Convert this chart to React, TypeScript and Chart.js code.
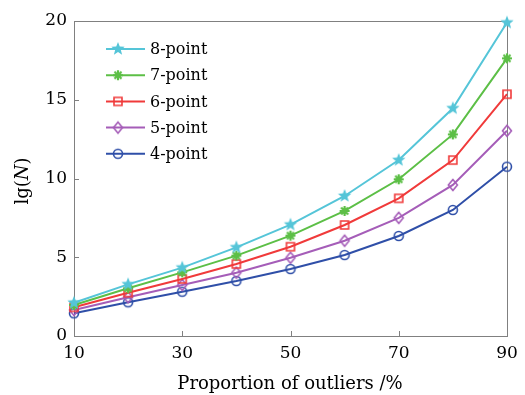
import { useEffect, useRef } from "react";
import { Chart, registerables } from "chart.js";

Chart.register(...registerables);

// Proportion of outliers (%) along the x axis
const proportions = [10, 20, 30, 40, 50, 60, 70, 80, 90];
const xTickValues = [10, 30, 50, 70, 90];
const yTickValues = [0, 5, 10, 15, 20];

// lg(N) for each sampling scheme
const seriesNames = ["8-point", "7-point", "6-point", "5-point", "4-point"];
const lgN8 = [2.11, 3.28, 4.34, 5.63, 7.07, 8.89, 11.17, 14.46, 19.9];
const lgN7 = [1.97, 3.03, 4.04, 5.1, 6.37, 7.94, 9.95, 12.8, 17.63];
const lgN6 = [1.82, 2.75, 3.62, 4.57, 5.67, 7.05, 8.74, 11.17, 15.35];
const lgN5 = [1.65, 2.46, 3.24, 4.02, 4.97, 6.05, 7.5, 9.59, 13.03];
const lgN4 = [1.44, 2.14, 2.81, 3.49, 4.25, 5.14, 6.35, 8.0, 10.75];
const seriesValues = [lgN8, lgN7, lgN6, lgN5, lgN4];

const SERIF = "'DejaVu Serif', serif";
const seriesLook = [
  { color: "#55c5d8", marker: "star" },
  { color: "#5cbf46", marker: "asterisk" },
  { color: "#f03a3a", marker: "square" },
  { color: "#a55db8", marker: "diamond" },
  { color: "#2f4fa8", marker: "circle" },
];

function makeMarker(kind: string, color: string): HTMLCanvasElement {
  const size = 20;
  const c = document.createElement("canvas");
  c.width = size;
  c.height = size;
  const g = c.getContext("2d") as CanvasRenderingContext2D;
  const m = size / 2;
  g.strokeStyle = color;
  g.fillStyle = color;
  g.lineWidth = 1.6;
  g.beginPath();
  if (kind === "star") {
    for (let i = 0; i < 10; i++) {
      const r = i % 2 === 0 ? 7 : 3;
      const a = -Math.PI / 2 + (i * Math.PI) / 5;
      const px = m + r * Math.cos(a);
      const py = m + r * Math.sin(a);
      if (i === 0) g.moveTo(px, py);
      else g.lineTo(px, py);
    }
    g.closePath();
    g.fill();
  } else if (kind === "asterisk") {
    g.lineWidth = 2.2;
    for (let i = 0; i < 4; i++) {
      const a = (i * Math.PI) / 4;
      g.moveTo(m - 5 * Math.cos(a), m - 5 * Math.sin(a));
      g.lineTo(m + 5 * Math.cos(a), m + 5 * Math.sin(a));
    }
    g.stroke();
  } else if (kind === "square") {
    g.rect(m - 4, m - 4, 8, 8);
    g.stroke();
  } else if (kind === "diamond") {
    g.moveTo(m, m - 5.5);
    g.lineTo(m + 4.5, m);
    g.lineTo(m, m + 5.5);
    g.lineTo(m - 4.5, m);
    g.closePath();
    g.stroke();
  } else {
    g.arc(m, m, 4.5, 0, Math.PI * 2);
    g.stroke();
  }
  return c;
}

export default function App() {
  const canvasRef = useRef<HTMLCanvasElement | null>(null);

  useEffect(() => {
    const canvas = canvasRef.current;
    if (!canvas) return;
    const markers = seriesLook.map((s) => makeMarker(s.marker, s.color));

    const frameAndLabels = {
      id: "frameAndLabels",
      beforeDatasetsDraw(chart: any) {
        const { ctx, chartArea: a, scales } = chart;
        ctx.save();
        ctx.strokeStyle = "#808080";
        ctx.lineWidth = 1;
        ctx.strokeRect(Math.round(a.left) + 0.5, Math.round(a.top) + 0.5, Math.round(a.right - a.left), Math.round(a.bottom - a.top));
        ctx.beginPath();
        xTickValues.slice(1, -1).forEach((v) => {
          const x = Math.round(scales.x.getPixelForValue(v)) + 0.5;
          ctx.moveTo(x, a.bottom);
          ctx.lineTo(x, a.bottom - 5);
        });
        yTickValues.slice(1, -1).forEach((v) => {
          const y = Math.round(scales.y.getPixelForValue(v)) + 0.5;
          ctx.moveTo(a.left, y);
          ctx.lineTo(a.left + 5, y);
        });
        ctx.stroke();
        ctx.restore();
      },
      afterDraw(chart: any) {
        const { ctx } = chart;
        ctx.save();
        ctx.fillStyle = "#000";
        // x-axis title
        ctx.font = `18px ${SERIF}`;
        ctx.textAlign = "center";
        ctx.textBaseline = "middle";
        ctx.fillText("Proportion of outliers /%", 290, 384);
        // y-axis title: lg(N) with an italic N
        ctx.translate(23, 181);
        ctx.rotate(-Math.PI / 2);
        const parts = [
          { t: "lg(", f: `18px ${SERIF}` },
          { t: "N", f: `italic 18px ${SERIF}` },
          { t: ")", f: `18px ${SERIF}` },
        ];
        let total = 0;
        const widths = parts.map((p) => {
          ctx.font = p.f;
          const w = ctx.measureText(p.t).width;
          total += w;
          return w;
        });
        ctx.textAlign = "left";
        let cx = -total / 2;
        parts.forEach((p, i) => {
          ctx.font = p.f;
          ctx.fillText(p.t, cx, 0);
          cx += widths[i];
        });
        ctx.restore();

        // legend
        ctx.save();
        ctx.font = `16px ${SERIF}`;
        ctx.textAlign = "left";
        ctx.textBaseline = "middle";
        seriesNames.forEach((name, i) => {
          const y = 49 + i * 26.2;
          ctx.strokeStyle = seriesLook[i].color;
          ctx.lineWidth = 2;
          ctx.beginPath();
          ctx.moveTo(106, y);
          ctx.lineTo(145, y);
          ctx.stroke();
          const mk = markers[i];
          ctx.drawImage(mk, 118 - mk.width / 2, y - mk.height / 2);
          ctx.fillStyle = "#000";
          ctx.fillText(name, 150, y + 1);
        });
        ctx.restore();
      },
    };

    const chart = new Chart(canvas, {
      type: "line",
      data: {
        labels: proportions,
        datasets: seriesNames.map((name, i) => ({
          label: name,
          data: proportions.map((p, j) => ({ x: p, y: seriesValues[i][j] })),
          borderColor: seriesLook[i].color,
          backgroundColor: seriesLook[i].color,
          borderWidth: 2,
          pointStyle: markers[i] as any,
          pointRadius: 6,
          tension: 0,
          clip: false as any,
        })),
      },
      options: {
        responsive: false,
        animation: false,
        layout: { padding: { left: 0, right: 18, top: 21, bottom: 0 } },
        plugins: { legend: { display: false }, tooltip: { enabled: false } },
        scales: {
          x: {
            type: "linear",
            min: 10,
            max: 90,
            grid: { display: false, drawTicks: false },
            border: { display: false },
            afterBuildTicks: (s: any) => {
              s.ticks = xTickValues.map((v) => ({ value: v }));
            },
            afterFit: (s: any) => {
              s.height = 59;
            },
            ticks: {
              color: "#000",
              font: { family: SERIF, size: 17 },
              padding: 7,
              maxRotation: 0,
            },
          },
          y: {
            type: "linear",
            min: 0,
            max: 20,
            grid: { display: false, drawTicks: false },
            border: { display: false },
            afterBuildTicks: (s: any) => {
              s.ticks = yTickValues.map((v) => ({ value: v }));
            },
            afterFit: (s: any) => {
              s.width = 74;
            },
            ticks: {
              color: "#000",
              font: { family: SERIF, size: 17 },
              padding: 7,
            },
          },
        },
      },
      plugins: [frameAndLabels],
    });
    return () => chart.destroy();
  }, []);

  return (
    <div style={{ position: "fixed", left: 0, top: 0, width: 525, height: 395, background: "#fff" }}>
      <canvas ref={canvasRef} width={525} height={395} style={{ display: "block" }} />
    </div>
  );
}
